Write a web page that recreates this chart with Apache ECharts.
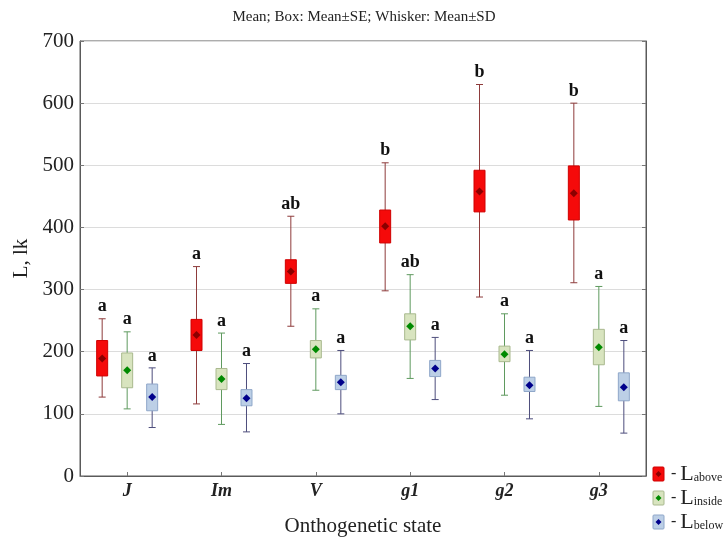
<!DOCTYPE html>
<html>
<head>
<meta charset="utf-8">
<script src="https://cdn.jsdelivr.net/npm/echarts@6/dist/echarts.min.js"></script>
<style>html,body{margin:0;padding:0;background:#fff}#c{width:728px;height:542px}</style>
</head>
<body>
<div id="c"></div>
<script>
// ---- data ----
var categories = ['J', 'Im', 'V', 'g1', 'g2', 'g3'];
var yTicks = [0, 100, 200, 300, 400, 500, 600, 700];

var aboveMean      = [189, 227, 329, 402, 458, 455];
var aboveBoxLow    = [161, 202, 310, 375, 425, 412];
var aboveBoxHigh   = [218, 252, 348, 428, 492, 499];
var aboveWhiskLow  = [127, 116, 241, 298, 288, 311];
var aboveWhiskHigh = [253, 337, 418, 504, 630, 600];
var aboveLetters   = ['a', 'a', 'ab', 'b', 'b', 'b'];

var insideMean      = [170, 156, 204, 241, 196, 207];
var insideBoxLow    = [142, 139, 190, 219, 184, 179];
var insideBoxHigh   = [198, 173, 218, 261, 209, 236];
var insideWhiskLow  = [108, 83, 138, 157, 130, 112];
var insideWhiskHigh = [232, 230, 269, 324, 261, 305];
var insideLetters   = ['a', 'a', 'a', 'ab', 'a', 'a'];

var belowMean      = [127, 125, 151, 173, 146, 143];
var belowBoxLow    = [105, 113, 139, 160, 136, 121];
var belowBoxHigh   = [148, 139, 162, 186, 159, 166];
var belowWhiskLow  = [78, 71, 100, 123, 92, 69];
var belowWhiskHigh = [174, 181, 202, 223, 202, 218];
var belowLetters   = ['a', 'a', 'a', 'a', 'a', 'a'];

// ---- styles ----
var groups = [
  {name: 'Labove', offset: -0.265, fill: '#f50a0a', border: '#d00000', whisker: '#8e3b3b', marker: '#8b0000',
   mean: aboveMean, bl: aboveBoxLow, bh: aboveBoxHigh, wl: aboveWhiskLow, wh: aboveWhiskHigh, letters: aboveLetters},
  {name: 'Linside', offset: 0, fill: '#d8e4bf', border: '#a9b98e', whisker: '#5f9a5f', marker: '#008a00',
   mean: insideMean, bl: insideBoxLow, bh: insideBoxHigh, wl: insideWhiskLow, wh: insideWhiskHigh, letters: insideLetters},
  {name: 'Lbelow', offset: 0.265, fill: '#bccfe6', border: '#8fa7c9', whisker: '#4d4d7c', marker: '#00008b',
   mean: belowMean, bl: belowBoxLow, bh: belowBoxHigh, wl: belowWhiskLow, wh: belowWhiskHigh, letters: belowLetters}
];

var serif = '"Liberation Serif", "Times New Roman", serif';

function makeRender(g) {
  return function (params, api) {
    var idx = api.value(0);
    var bw = api.size([1, 0])[0];
    var dx = g.offset * bw;
    var pWL = api.coord([idx, api.value(1)]);
    var pBL = api.coord([idx, api.value(2)]);
    var pM  = api.coord([idx, api.value(3)]);
    var pBH = api.coord([idx, api.value(4)]);
    var pWH = api.coord([idx, api.value(5)]);
    var x = pM[0] + dx;
    var boxW = 11, capW = 7, d = 4;
    var letter = g.letters[params.dataIndex];
    return {
      type: 'group',
      children: [
        {type: 'line', shape: {x1: x, y1: pWH[1], x2: x, y2: pWL[1]}, style: {stroke: g.whisker, lineWidth: 1}},
        {type: 'line', shape: {x1: x - capW / 2, y1: pWH[1], x2: x + capW / 2, y2: pWH[1]}, style: {stroke: g.whisker, lineWidth: 1}},
        {type: 'line', shape: {x1: x - capW / 2, y1: pWL[1], x2: x + capW / 2, y2: pWL[1]}, style: {stroke: g.whisker, lineWidth: 1}},
        {type: 'rect', shape: {x: x - boxW / 2, y: pBH[1], width: boxW, height: pBL[1] - pBH[1]},
         style: {fill: g.fill, stroke: g.border, lineWidth: 1}},
        {type: 'polygon', shape: {points: [[x, pM[1] - d], [x + d, pM[1]], [x, pM[1] + d], [x - d, pM[1]]]},
         style: {fill: g.marker}},
        {type: 'text', x: x, y: pWH[1] - 3,
         style: {text: letter, fill: '#111', font: 'bold 18px ' + serif, align: 'center', verticalAlign: 'bottom'}}
      ]
    };
  };
}

var series = groups.map(function (g) {
  var data = categories.map(function (c, i) {
    return [i, g.wl[i], g.bl[i], g.mean[i], g.bh[i], g.wh[i]];
  });
  return {
    type: 'custom',
    name: g.name,
    renderItem: makeRender(g),
    encode: {x: 0, y: [1, 5]},
    data: data,
    clip: false
  };
});

// legend as graphic
var legendItems = [];
groups.forEach(function (g, k) {
  var cy = 474 + k * 24;
  legendItems.push({type: 'rect', shape: {x: 653, y: cy - 7, width: 11, height: 14, r: 1},
    style: {fill: g.fill, stroke: g.border, lineWidth: 1}});
  legendItems.push({type: 'polygon', shape: {points: [[658.5, cy - 3], [661.5, cy], [658.5, cy + 3], [655.5, cy]]},
    style: {fill: g.marker}});
  legendItems.push({type: 'text', x: 671, y: cy,
    style: {
      text: '{d|- }{L|L}{s|' + g.name.slice(1) + '}',
      verticalAlign: 'middle',
      rich: {
        d: {font: '16px ' + serif, fill: '#222'},
        L: {font: '22px ' + serif, fill: '#222'},
        s: {font: '12px ' + serif, fill: '#222', padding: [7, 0, 0, 0]}
      }
    }});
});

var chart = echarts.init(document.getElementById('c'), null, {renderer: 'canvas'});
chart.setOption({
  backgroundColor: '#fff',
  animation: false,
  title: {
    text: 'Mean; Box: Mean±SE; Whisker: Mean±SD',
    left: 'center', top: 5,
    textStyle: {fontFamily: serif, fontSize: 15, fontWeight: 'normal', color: '#222'}
  },
  grid: {left: 80, right: 82, top: 41, bottom: 60, show: true, borderColor: '#5a5a5a', borderWidth: 1, backgroundColor: 'transparent'},
  xAxis: {
    type: 'category',
    data: categories,
    name: 'Onthogenetic state',
    nameLocation: 'middle',
    nameGap: 40,
    nameTextStyle: {fontFamily: serif, fontSize: 21, color: '#222'},
    axisLine: {show: true, lineStyle: {color: '#5a5a5a'}},
    axisTick: {show: true, inside: true, alignWithLabel: true, length: 4, lineStyle: {color: '#777'}},
    axisLabel: {fontFamily: serif, fontSize: 18, fontWeight: 'bold', fontStyle: 'italic', color: '#222', margin: 6},
    splitLine: {show: false}
  },
  yAxis: [{
    type: 'value',
    min: yTicks[0], max: yTicks[yTicks.length - 1], interval: 100,
    name: 'L, lk',
    nameLocation: 'middle',
    nameGap: 48,
    nameTextStyle: {fontFamily: serif, fontSize: 21, color: '#222'},
    axisLine: {show: true, lineStyle: {color: '#5a5a5a'}},
    axisTick: {show: true, inside: true, length: 4, lineStyle: {color: '#777'}},
    axisLabel: {fontFamily: serif, fontSize: 21, color: '#222', margin: 6},
    splitLine: {show: true, lineStyle: {color: '#dcdcdc', width: 1}}
  }, {
    type: 'value',
    position: 'right',
    min: yTicks[0], max: yTicks[yTicks.length - 1], interval: 100,
    axisLine: {show: true, lineStyle: {color: '#5a5a5a'}},
    axisTick: {show: true, inside: true, length: 4, lineStyle: {color: '#777'}},
    axisLabel: {show: false},
    splitLine: {show: false}
  }],
  series: series,
  graphic: legendItems
});
</script>
</body>
</html>
